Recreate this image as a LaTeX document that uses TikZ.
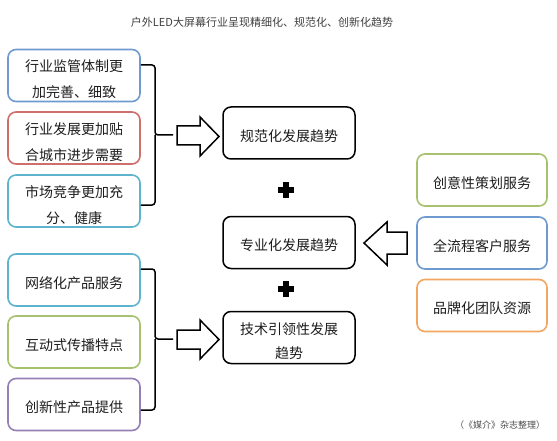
\documentclass[tikz,border=0pt]{standalone}
\usepackage{fontspec}
\setmainfont{Noto Sans CJK SC}
\usetikzlibrary{positioning}
\definecolor{cblue}{HTML}{6F9AD0}
\definecolor{cred}{HTML}{CF6F6C}
\definecolor{cteal}{HTML}{5DB4CC}
\definecolor{cgreen}{HTML}{A7C26F}
\definecolor{cpurple}{HTML}{9480B5}
\definecolor{corange}{HTML}{F3A65F}
\definecolor{ctext}{HTML}{1E1E1E}
\tikzset{
  boxtext/.style={align=center, font=\fontsize{14}{26}\selectfont, text=ctext, inner sep=0pt, yshift=-4pt},
  midtext/.style={align=center, font=\fontsize{14}{24}\selectfont, text=ctext, inner sep=0pt, yshift=-4pt},
  sidebox/.style={draw, line width=1.6pt, rounded corners=8pt, minimum width=132pt, minimum height=52pt, inner sep=0pt},
  midbox/.style={draw=black, line width=1.5pt, rounded corners=8pt, minimum width=132pt, minimum height=52pt, inner sep=0pt},
  bracepath/.style={draw=black, line width=1.5pt, rounded corners=3pt},
  hollow/.style={draw=black, line width=1.5pt, fill=white, line join=miter},
  plusmark/.style={fill=black}
}
\begin{document}
\begin{tikzpicture}[x=1pt,y=-1pt]
\useasboundingbox (0,0) rectangle (557,441);
\fill[white] (0,0) rectangle (557,441);
\node[font=\fontsize{11}{13}\selectfont, text=black!75] (title) at (262,22) {户外LED大屏幕行业呈现精细化、规范化、创新化趋势};
% left top group
\node[sidebox, draw=cblue, label={[boxtext]center:{行业监管体制更\\加完善、细致}}] (l1) at (74,75.5) {};
\node[sidebox, draw=cred, label={[boxtext]center:{行业发展更加贴\\合城市进步需要}}] (l2) at (74,138) {};
\node[sidebox, draw=cteal, label={[boxtext]center:{市场竞争更加充\\分、健康}}] (l3) at (74,201) {};
% left bottom group
\node[sidebox, draw=cteal, label={[boxtext, yshift=1pt]center:{网络化产品服务}}] (l4) at (74,280) {};
\node[sidebox, draw=cgreen, label={[boxtext, yshift=1pt]center:{互动式传播特点}}] (l5) at (74,342) {};
\node[sidebox, draw=cpurple, label={[boxtext, yshift=1pt]center:{创新性产品提供}}] (l6) at (74,404.5) {};
% middle
\node[midbox, label={[boxtext, yshift=1pt]center:{规范化发展趋势}}] (m1) at (289,133) {};
\node[midbox, label={[boxtext, yshift=1pt]center:{专业化发展趋势}}] (m2) at (289,242.5) {};
\node[midbox, label={[midtext]center:{技术引领性发展\\趋势}}] (m3) at (289,337.5) {};
% right
\node[sidebox, draw=cgreen, minimum width=130pt, label={[boxtext, yshift=1pt]center:{创意性策划服务}}] (r1) at (482,180) {};
\node[sidebox, draw=cblue, minimum width=130pt, label={[boxtext, yshift=1pt]center:{全流程客户服务}}] (r2) at (482,243) {};
\node[sidebox, draw=corange, minimum width=130pt, label={[boxtext, yshift=1pt]center:{品牌化团队资源}}] (r3) at (482,305.5) {};
% braces
\draw[bracepath] (l1.east |- 0,65) -- (155,65) -- (155,135) -- (173,135);
\draw[bracepath] (l3.east |- 0,205) -- (155,205) -- (155,135);
\draw[bracepath] (l4.east |- 0,269) -- (155,269) -- (155,339) -- (173,339);
\draw[bracepath] (l6.east |- 0,410) -- (155,410) -- (155,339);
% hollow arrows
\draw[hollow] (177,126) -- (200,126) -- (200,117) -- (219,136.5) -- (200,156) -- (200,145) -- (177,145) -- cycle;
\draw[hollow] (177,330) -- (200,330) -- (200,320) -- (219,339.5) -- (200,359) -- (200,349) -- (177,349) -- cycle;
\draw[hollow] (407,232) -- (387,232) -- (387,222) -- (364,243) -- (387,265) -- (387,254) -- (407,254) -- cycle;
% plus marks
\foreach \py/\nm in {190/p1, 289/p2} {
  \coordinate (\nm) at (286,\py);
  \fill[plusmark] ([xshift=-8pt,yshift=2.8pt]\nm) rectangle ([xshift=8pt,yshift=-2.8pt]\nm);
  \fill[plusmark] ([xshift=-2.8pt,yshift=8pt]\nm) rectangle ([xshift=2.8pt,yshift=-8pt]\nm);
}
\node[font=\fontsize{9}{10}\selectfont, text=black!70] (src) at (500,425) {（《媒介》杂志整理）};
\end{tikzpicture}
\end{document}
